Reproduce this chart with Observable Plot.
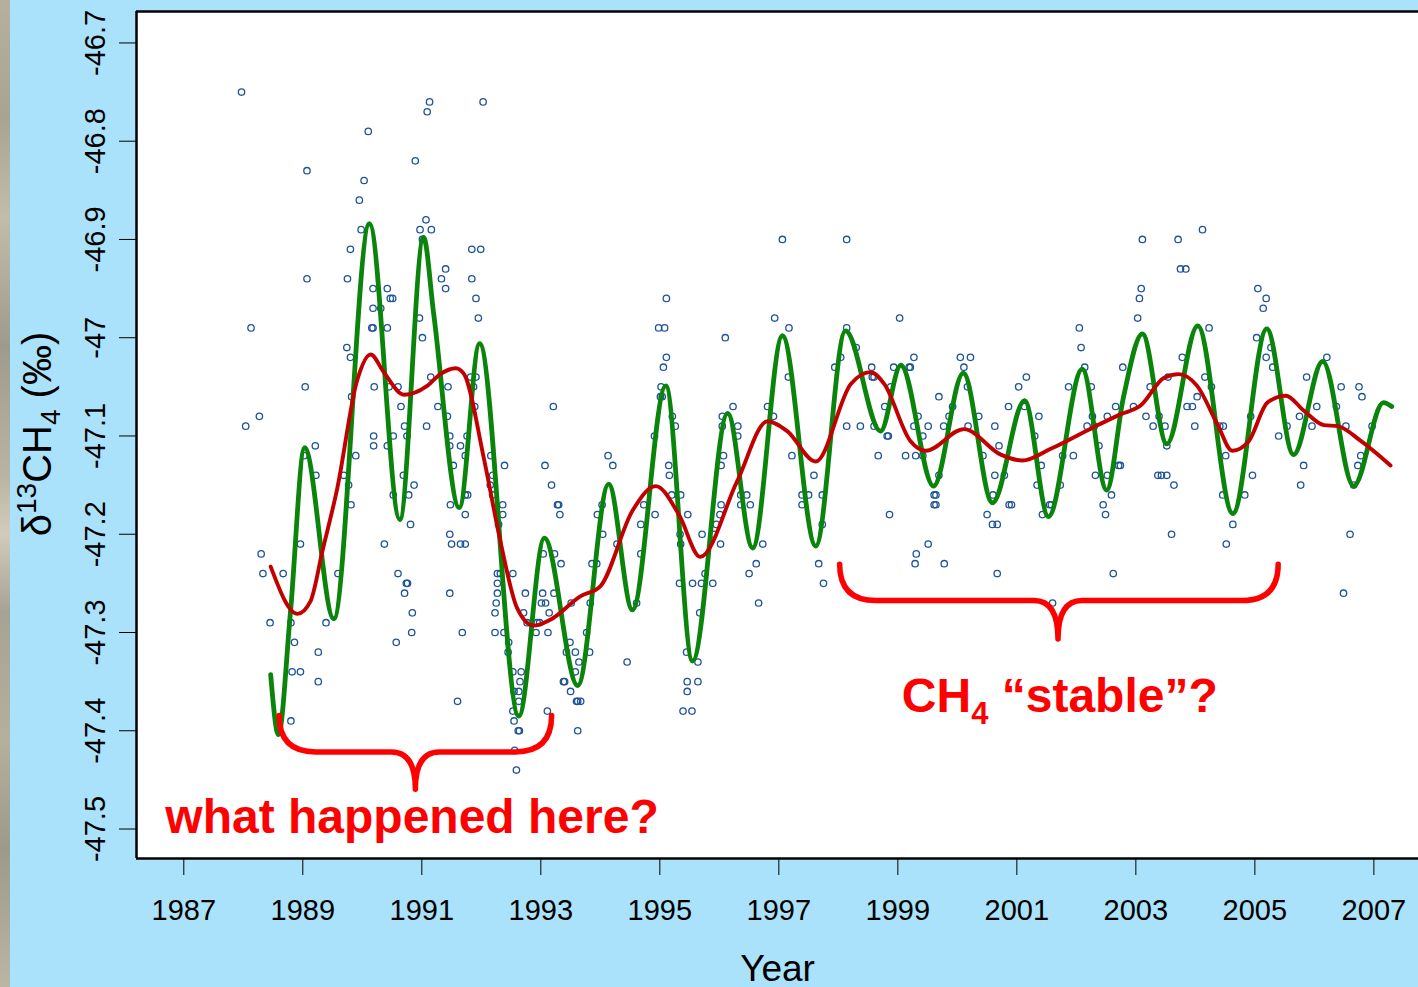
<!DOCTYPE html>
<html>
<head>
<meta charset="utf-8">
<script src="https://cdn.jsdelivr.net/npm/d3@7"></script>
<script src="https://cdn.jsdelivr.net/npm/@observablehq/plot@0.6"></script>
<style>
  html, body { margin: 0; padding: 0; background: #abe2fb; overflow: hidden; }
  #wrap { position: relative; width: 1418px; height: 987px; }
  #strip {
    position: absolute; left: 0; top: 0; width: 10px; height: 987px;
    background: linear-gradient(180deg, #b7b09f 0%, #a9a391 12%, #c2bcaa 22%, #9f9b8c 35%,
      #b9b3a3 48%, #d2cbbd 54%, #a7a394 62%, #b5af9c 75%, #9d9a8b 86%, #bbb5a4 100%);
  }
  #chart { position: absolute; left: 0; top: 0; }
</style>
</head>
<body>
<div id="wrap"><div id="strip"></div><div id="chart"></div></div>
<script>
// Atmospheric methane δ13C record: individual flask samples [decimal year, ‰]
const samples = [
  [1987.97,-46.75],[1988.13,-46.99],[1988.04,-47.09],[1988.27,-47.08],
  [1988.30,-47.22],[1988.33,-47.24],[1988.67,-47.24],[1988.45,-47.29],[1988.80,-47.29],[1988.86,-47.31],
  [1988.82,-47.34],[1988.96,-47.34],[1988.80,-47.39],
  [1989.07,-46.83],[1989.21,-47.11],[1989.04,-47.05],[1989.07,-46.94],[1989.02,-47.12],[1989.22,-47.14],
  [1988.96,-47.21],[1989.26,-47.32],[1989.26,-47.35],[1989.39,-47.29],[1989.59,-47.24],[1989.69,-47.14],
  [1989.77,-47.15],[1989.81,-47.17],
  [1989.95,-46.86],[1990.03,-46.84],[1989.98,-46.89],[1989.80,-46.91],[1989.75,-46.94],[1989.74,-47.01],
  [1989.80,-47.02],[1989.82,-47.06],[1989.89,-47.12],
  [1990.10,-46.79],[1990.18,-46.95],[1990.42,-46.95],[1990.18,-46.97],[1990.31,-46.97],[1990.47,-46.96],
  [1990.51,-46.96],[1990.16,-46.99],[1990.18,-46.99],[1990.42,-46.99],[1990.20,-47.05],[1990.45,-47.05],
  [1990.60,-47.05],[1990.65,-47.07],[1990.71,-47.09],[1990.19,-47.10],[1990.19,-47.11],[1990.52,-47.10],
  [1990.42,-47.11],[1990.75,-47.10],
  [1990.69,-47.14],[1990.52,-47.16],[1990.78,-47.16],[1990.87,-47.15],[1990.81,-47.19],[1990.37,-47.21],
  [1990.60,-47.24],[1990.74,-47.25],[1990.76,-47.25],[1990.71,-47.26],[1990.84,-47.28],[1990.83,-47.30],
  [1990.57,-47.31],
  [1990.89,-46.82],[1990.97,-46.89],[1991.01,-46.90],[1990.96,-46.98],[1991.01,-47.00],
  [1991.08,-47.09],[1991.13,-46.76],[1991.09,-46.77],[1991.07,-46.88],[1991.16,-46.89],[1991.33,-46.94],
  [1991.40,-46.93],[1991.40,-46.95],[1991.15,-47.04],[1991.44,-47.05],[1991.27,-47.07],[1991.43,-47.08],
  [1991.47,-47.10],[1991.47,-47.11],[1991.65,-47.11],[1991.76,-47.10],[1991.73,-47.12],
  [1991.53,-47.13],[1991.48,-47.17],[1991.73,-47.16],[1991.77,-47.16],[1991.73,-47.18],[1991.47,-47.20],
  [1991.50,-47.21],[1991.65,-47.21],[1991.73,-47.21],[1991.47,-47.26],[1991.68,-47.30],[1991.60,-47.37],
  [1991.84,-46.91],[1991.99,-46.91],[1991.84,-46.94],[1991.91,-46.96],[1991.95,-46.98],[1991.82,-47.04],
  [1991.91,-47.04],[1991.87,-47.05],[1991.89,-47.07],
  [1992.03,-46.76],[1992.16,-47.12],[1992.19,-47.14],[1992.39,-47.13],[1992.15,-47.15],[1992.19,-47.16],
  [1992.36,-47.17],[1992.36,-47.18],[1992.29,-47.19],[1992.27,-47.24],[1992.32,-47.24],[1992.53,-47.24],
  [1992.27,-47.25],[1992.27,-47.26],[1992.25,-47.27],[1992.23,-47.28],[1992.23,-47.30],[1992.38,-47.30],
  [1992.46,-47.31],[1992.45,-47.32],[1992.53,-47.34],[1992.67,-47.34],[1992.65,-47.35],[1992.63,-47.36],
  [1992.55,-47.36],[1992.63,-47.37],[1992.53,-47.38],[1992.55,-47.39],[1992.62,-47.40],[1992.64,-47.40],
  [1992.56,-47.42],[1992.59,-47.44],
  [1992.71,-47.28],[1992.74,-47.26],[1992.77,-47.29],[1992.94,-47.29],[1992.98,-47.29],[1992.92,-47.30],
  [1993.12,-47.30],
  [1993.11,-47.38],[1993.03,-47.26],[1993.01,-47.27],[1993.08,-47.27],[1993.14,-47.28],[1993.22,-47.26],
  [1993.04,-47.22],[1993.23,-47.22],[1993.34,-47.23],[1993.07,-47.13],[1993.18,-47.15],[1993.28,-47.17],
  [1993.30,-47.17],[1993.32,-47.18],[1993.21,-47.07],
  [1993.49,-47.31],[1993.43,-47.32],[1993.58,-47.32],[1993.58,-47.34],[1993.38,-47.35],[1993.40,-47.35],
  [1993.50,-47.36],[1993.60,-47.37],[1993.62,-47.37],[1993.67,-47.37],[1993.62,-47.40],[1993.64,-47.33],
  [1993.51,-47.27],
  [1993.77,-47.30],[1993.82,-47.32],[1993.83,-47.27],[1994.04,-47.20],[1993.86,-47.23],[1993.94,-47.23],
  [1993.95,-47.18],[1994.03,-47.17],
  [1994.13,-47.12],[1994.21,-47.13],[1994.28,-47.21],[1994.45,-47.33],[1994.61,-47.27],[1994.68,-47.22],
  [1994.68,-47.19],[1994.73,-47.17],[1994.92,-47.18],[1994.91,-47.10],
  [1995.01,-47.06],[1995.04,-47.06],[1995.02,-47.05],[1995.06,-47.03],[1995.11,-47.02],[1994.98,-46.99],
  [1995.08,-46.99],[1995.11,-46.96],[1995.15,-47.13],[1995.16,-47.14],[1995.21,-47.08],[1995.26,-47.09],
  [1995.20,-47.16],[1995.35,-47.16],[1995.47,-47.18],[1995.34,-47.20],[1995.35,-47.21],[1995.33,-47.25],
  [1995.55,-47.25],
  [1995.45,-47.32],[1995.64,-47.33],[1995.46,-47.35],[1995.64,-47.35],[1995.46,-47.36],[1995.39,-47.38],
  [1995.54,-47.38],
  [1995.70,-47.25],[1995.89,-47.25],[1995.67,-47.28],[1995.76,-47.24],[1995.71,-47.20],[1995.91,-47.20],
  [1995.95,-47.19],
  [1996.01,-47.18],[1996.03,-47.17],[1996.02,-47.21],[1996.03,-47.13],[1996.07,-47.12],[1996.05,-47.09],
  [1996.05,-47.08],[1996.10,-47.00],[1996.23,-47.07],[1996.31,-47.09],[1996.31,-47.10],[1996.36,-47.16],
  [1996.46,-47.16],[1996.36,-47.17],[1996.52,-47.17],[1996.50,-47.24],[1996.62,-47.23],[1996.66,-47.27],
  [1996.73,-47.21],[1996.81,-47.07],[1996.91,-47.08],[1996.93,-46.98],
  [1997.17,-46.99],[1997.06,-46.90],[1997.16,-47.04],[1997.22,-47.12],[1997.59,-47.14],[1997.39,-47.16],
  [1997.50,-47.16],[1997.73,-47.16],[1997.39,-47.17],[1997.73,-47.19],[1997.67,-47.23],[1997.75,-47.25],
  [1998.14,-46.90],[1998.14,-46.99],[1998.04,-47.02],[1997.94,-47.03],[1998.30,-47.01],[1998.14,-47.09],
  [1998.37,-47.09],[1998.56,-47.03],[1998.57,-47.04],[1998.60,-47.04],[1998.60,-47.09],[1998.67,-47.12],
  [1998.78,-47.07],[1998.82,-47.10],[1998.84,-47.10],[1998.88,-47.05],[1998.86,-47.18],[1998.93,-47.03],
  [1999.03,-46.98],[1999.13,-47.12],[1999.19,-47.03],[1999.21,-47.03],[1999.27,-47.02],[1999.27,-47.09],
  [1999.34,-47.08],[1999.42,-47.10],[1999.30,-47.12],[1999.42,-47.12],[1999.51,-47.09],[1999.51,-47.21],
  [1999.31,-47.22],[1999.29,-47.23],[1999.78,-47.23],[1999.69,-47.06],[1999.69,-47.14],[1999.61,-47.16],
  [1999.64,-47.16],[1999.61,-47.17],[1999.64,-47.17],[1999.77,-47.09],[1999.86,-47.08],[1999.92,-47.07],
  [2000.05,-47.02],[2000.22,-47.02],[2000.11,-47.03],[2000.17,-47.05],[2000.18,-47.09],[2000.36,-47.08],
  [2000.43,-47.12],[2000.63,-47.09],[2000.63,-47.14],[2000.60,-47.16],[2000.50,-47.18],[2000.59,-47.19],
  [2000.67,-47.19],[2000.67,-47.24],[2000.70,-47.11],[2000.79,-47.14],[2000.87,-47.17],[2000.91,-47.17],
  [2000.86,-47.07],
  [2001.03,-47.05],[2001.16,-47.04],[2001.13,-47.07],[2001.30,-47.10],[2001.37,-47.08],[2001.34,-47.15],
  [2001.41,-47.13],[2001.43,-47.18],[2001.55,-47.17],[2001.58,-47.17],[2001.73,-47.15],[2001.77,-47.12],
  [2001.95,-47.12],[2001.87,-47.05],[2001.60,-47.27],
  [2002.05,-46.99],[2002.08,-47.01],[2002.14,-47.03],[2002.25,-47.05],[2002.27,-47.08],[2002.30,-47.09],
  [2002.18,-47.09],[2002.38,-47.11],[2002.52,-47.08],[2002.66,-47.07],[2002.32,-47.14],[2002.52,-47.14],
  [2002.59,-47.16],[2002.45,-47.17],[2002.49,-47.18],[2002.62,-47.24],[2002.71,-47.13],[2002.74,-47.13],
  [2002.78,-47.03],[2002.96,-47.07],
  [2003.03,-46.98],[2003.06,-46.96],[2003.09,-46.95],[2003.11,-46.90],[2003.17,-47.08],[2003.24,-47.05],
  [2003.29,-47.09],[2003.39,-47.08],[2003.49,-47.09],[2003.37,-47.14],[2003.43,-47.14],[2003.52,-47.14],
  [2003.64,-47.15],[2003.52,-47.11],[2003.54,-47.04],[2003.60,-47.20],[2003.71,-46.90],[2003.75,-46.93],
  [2003.84,-46.93],[2003.78,-47.02],[2003.86,-47.07],[2003.95,-47.07],
  [2004.12,-46.89],[2004.03,-47.06],[2003.99,-47.09],[2004.16,-47.04],[2004.23,-46.99],[2004.27,-47.05],
  [2004.41,-47.09],[2004.47,-47.09],[2004.51,-47.12],[2004.46,-47.16],[2004.63,-47.19],[2004.52,-47.21],
  [2004.83,-47.16],[2004.96,-47.14],[2004.93,-47.08],
  [2005.03,-47.00],[2005.05,-46.95],[2005.19,-46.96],[2005.14,-46.97],[2005.19,-47.02],[2005.27,-47.01],
  [2005.30,-47.03],[2005.40,-47.10],[2005.54,-47.09],[2005.75,-47.08],[2005.82,-47.13],[2005.77,-47.15],
  [2005.87,-47.04],[2005.96,-47.09],
  [2006.04,-47.07],[2006.21,-47.02],[2006.37,-47.07],[2006.45,-47.05],[2006.53,-47.09],[2006.60,-47.20],
  [2006.49,-47.26],[2006.75,-47.05],[2006.80,-47.06],[2006.97,-47.09],[2006.78,-47.12],[2006.73,-47.13],
  [2006.66,-47.15]
];

// Smooth fit including the seasonal cycle (turning points)
const seasonalFit = [
  [1988.46,-47.343],[1988.59,-47.404],[1988.79,-47.281],[1989.03,-47.112],[1989.52,-47.286],
  [1990.12,-46.884],[1990.63,-47.185],[1991.03,-46.898],[1991.20,-46.976],[1991.63,-47.173],
  [1991.97,-47.006],[1992.63,-47.385],[1993.06,-47.204],[1993.62,-47.354],[1994.14,-47.149],
  [1994.54,-47.277],[1995.10,-47.049],[1995.55,-47.329],[1996.14,-47.077],[1996.56,-47.214],
  [1997.06,-46.998],[1997.62,-47.212],[1998.12,-46.993],[1998.71,-47.095],[1999.05,-47.028],
  [1999.60,-47.151],[2000.10,-47.036],[2000.59,-47.168],[2001.13,-47.064],[2001.53,-47.182],
  [2002.10,-47.032],[2002.51,-47.155],[2002.79,-47.061],[2003.11,-46.996],[2003.52,-47.108],
  [2004.04,-46.988],[2004.63,-47.179],[2005.20,-46.991],[2005.65,-47.119],[2006.14,-47.024],
  [2006.66,-47.151],[2007.16,-47.066],[2007.30,-47.070]
];

// Deseasonalised trend
const trendFit = [
  [1988.46,-47.233],[1988.91,-47.281],[1989.13,-47.268],[1989.33,-47.217],[1989.58,-47.153],
  [1989.91,-47.044],[1990.14,-47.017],[1990.36,-47.035],[1990.70,-47.058],[1991.09,-47.049],
  [1991.31,-47.037],[1991.57,-47.031],[1991.71,-47.037],[1992.04,-47.122],[1992.32,-47.207],
  [1992.60,-47.275],[1992.88,-47.293],[1993.16,-47.287],[1993.67,-47.263],[1994.00,-47.253],
  [1994.54,-47.176],[1994.93,-47.151],[1995.32,-47.180],[1995.68,-47.223],[1996.30,-47.146],
  [1996.81,-47.085],[1997.14,-47.095],[1997.62,-47.126],[1998.21,-47.047],[1998.54,-47.035],
  [1998.77,-47.047],[1999.21,-47.105],[1999.47,-47.115],[2000.11,-47.093],[2000.73,-47.119],
  [2001.09,-47.125],[2001.57,-47.113],[2002.29,-47.091],[2002.74,-47.078],[2003.08,-47.069],
  [2003.47,-47.041],[2003.72,-47.037],[2004.03,-47.049],[2004.37,-47.088],[2004.62,-47.115],
  [2004.90,-47.105],[2005.21,-47.066],[2005.52,-47.059],[2005.82,-47.074],[2006.16,-47.089],
  [2006.39,-47.090],[2006.78,-47.105],[2007.28,-47.130]
];

const xTicks = [1987, 1989, 1991, 1993, 1995, 1997, 1999, 2001, 2003, 2005, 2007];
const yTicks = [-46.7, -46.8, -46.9, -47, -47.1, -47.2, -47.3, -47.4, -47.5];

const xDomain = [1986.205, 2007.75];
const yDomain = [-47.530, -46.668];

// Curly-brace annotations: span, arm top, bar level, tip
const braces = [
  {x1: 1988.61, x2: 1993.19, xc: 1990.90, top: -47.385, bar: -47.422, tip: -47.460},
  {x1: 1998.03, x2: 2005.40, xc: 2001.70, top: -47.231, bar: -47.268, tip: -47.307}
];

const font = "'Liberation Sans', Arial, Helvetica, sans-serif";
const annotRed = "#ff0000";

const chart = Plot.plot({
  width: 1418,
  height: 987,
  marginLeft: 136,
  marginRight: 0,
  marginTop: 11,
  marginBottom: 129,
  x: {domain: xDomain},
  y: {domain: yDomain},
  style: {background: "transparent", fontFamily: font, color: "black", overflow: "visible"},
  marks: [
    Plot.rect([0], {x1: xDomain[0], x2: xDomain[1], y1: yDomain[0], y2: yDomain[1], fill: "white"}),
    Plot.dot(samples, {x: d => d[0], y: d => d[1], r: 3.2, stroke: "#1f5399", strokeWidth: 1.3, fill: "none"}),
    Plot.line(seasonalFit, {x: d => d[0], y: d => d[1], stroke: "#0a840a", strokeWidth: 4.8, curve: "monotone-x"}),
    Plot.line(trendFit, {x: d => d[0], y: d => d[1], stroke: "#c30000", strokeWidth: 3.9, curve: "monotone-x"}),
    Plot.ruleX([xDomain[0]], {stroke: "black", strokeWidth: 2.5}),
    Plot.ruleY(yDomain, {stroke: "black", strokeWidth: 2.5}),
    Plot.axisX({ticks: xTicks, tickSize: 17, tickPadding: 24, fontSize: 29, label: null, tickFormat: d => String(d)}),
    Plot.axisY({ticks: yTicks, tickSize: 17, label: null, tickFormat: () => ""}),
    Plot.text(yTicks, {y: d => d, frameAnchor: "left", dx: -41, rotate: -90, text: d => String(d),
      fontSize: 29, textAnchor: "middle", lineAnchor: "middle", fill: "black"}),
    Plot.text(["Year"], {frameAnchor: "bottom", dy: 111, fontSize: 37, lineAnchor: "middle", fill: "black"}),
    Plot.text(["what happened here?"], {x: () => 1990.835, y: () => -47.488, fontSize: 48, fontWeight: "bold",
      fill: annotRed, textAnchor: "middle", lineAnchor: "middle"})
  ]
});

document.getElementById("chart").appendChild(chart);

// Braces and the CH4 annotation are drawn through the plot's own scales
const sx = chart.scale("x"), sy = chart.scale("y");
const svg = d3.select(chart);
const X = v => sx.apply(v), Y = v => sy.apply(v);

for (const b of braces) {
  const x1 = X(b.x1), x2 = X(b.x2), xc = X(b.xc);
  const top = Y(b.top), bar = Y(b.bar), tip = Y(b.tip);
  const r = bar - top, n = 24;
  const p = d3.path();
  p.moveTo(x1, top);
  p.quadraticCurveTo(x1, bar, x1 + r, bar);
  p.lineTo(xc - n, bar);
  p.quadraticCurveTo(xc, bar, xc, tip);
  p.quadraticCurveTo(xc, bar, xc + n, bar);
  p.lineTo(x2 - r, bar);
  p.quadraticCurveTo(x2, bar, x2, top);
  svg.append("path").attr("d", p.toString()).attr("fill", "none")
    .attr("stroke", annotRed).attr("stroke-width", 5.5).attr("stroke-linecap", "round").attr("stroke-linejoin", "round");
}

const ch4 = svg.append("text")
  .attr("x", X(2001.73)).attr("y", Y(-47.381))
  .attr("text-anchor", "middle").attr("font-family", font).attr("font-size", 48)
  .attr("font-weight", "bold").attr("fill", annotRed);
ch4.append("tspan").text("CH");
ch4.append("tspan").attr("font-size", 31).attr("dy", 12).text("4");
ch4.append("tspan").attr("dy", -12).text(" \u201Cstable\u201D?");

// Y axis title with isotope superscript and methane subscript
const ylab = svg.append("text")
  .attr("transform", "translate(51,434) rotate(-90)")
  .attr("text-anchor", "middle").attr("font-family", font).attr("font-size", 40).attr("fill", "black");
ylab.append("tspan").text("\u03B4");
ylab.append("tspan").attr("font-size", 28).attr("dy", -15).text("13");
ylab.append("tspan").attr("dy", 15).text("CH");
ylab.append("tspan").attr("font-size", 28).attr("dy", 9).text("4");
ylab.append("tspan").attr("dy", -9).text(" (\u2030)");
</script>
</body>
</html>
